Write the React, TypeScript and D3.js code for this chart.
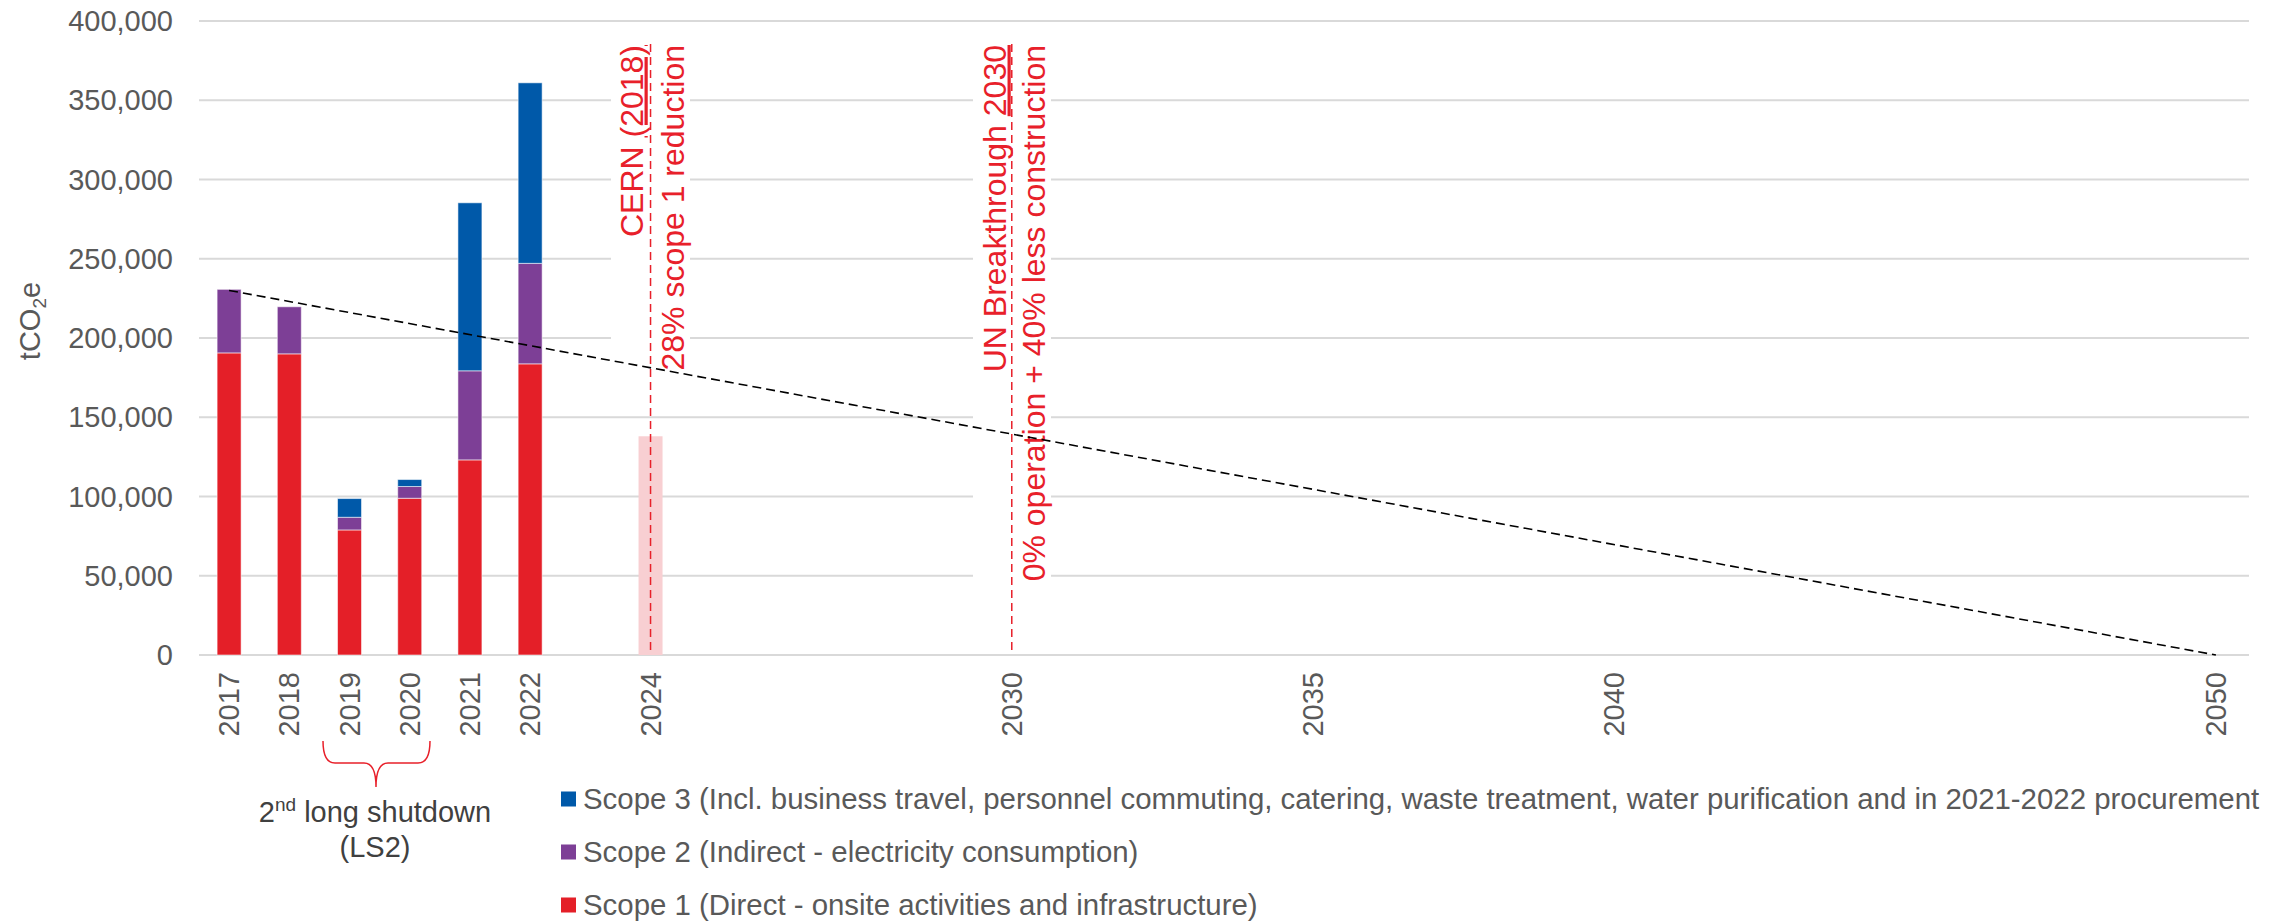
import React from "react";
import * as d3 from "d3";

// Emissions by scope, tCO2e
const years = [2017, 2018, 2019, 2020, 2021, 2022];
const scope1 = [190600, 190000, 78900, 98900, 123100, 183700];
const scope2 = [40100, 29700, 8000, 7400, 56200, 63400];
const scope3 = [0, 0, 11800, 4400, 106000, 113900];

// 2024 target bar and reduction trajectory
const targetYear = 2024;
const targetValue = 138000;
const trendYears = [2017, 2050];
const trendValues = [230000, 0];

const yTicks = [0, 50000, 100000, 150000, 200000, 250000, 300000, 350000, 400000];
const xTickYears = [2017, 2018, 2019, 2020, 2021, 2022, 2024, 2030, 2035, 2040, 2050];

const seriesKeys = ["scope1", "scope2", "scope3"];
const seriesColors: Record<string, string> = {
  scope1: "#e41f28",
  scope2: "#7d3f96",
  scope3: "#0059a9",
};
const legendItems = [
  { key: "scope3", label: "Scope 3 (Incl. business travel, personnel commuting, catering, waste treatment, water purification and in 2021-2022 procurement" },
  { key: "scope2", label: "Scope 2 (Indirect - electricity consumption)" },
  { key: "scope1", label: "Scope 1 (Direct - onsite activities and infrastructure)" },
];

const W = 2282;
const H = 921;
const FONT = "'Liberation Sans', Arial, sans-serif";
const RED = "#e8202a";
const GREY = "#595959";

export default function App() {
  const x = d3.scaleLinear().domain([2016.5, 2050.55]).range([199, 2249]);
  const y = d3.scaleLinear().domain([0, 400000]).range([655, 21]);
  const barW = 24;

  const rows = years.map((yr, i) => ({ year: yr, scope1: scope1[i], scope2: scope2[i], scope3: scope3[i] }));
  const stacked = d3.stack<any>().keys(seriesKeys)(rows);

  const trendLine = d3
    .line<number>()
    .x((_, i) => x(trendYears[i]))
    .y((d) => y(d))(trendValues);

  return (
    <div style={{ position: "absolute", left: 0, top: 0 }}>
      <svg width={W} height={H} style={{ display: "block", background: "#fff" }} fontFamily={FONT}>
        {/* gridlines */}
        {yTicks.map((t) => (
          <line key={t} x1={199} x2={2249} y1={y(t)} y2={y(t)} stroke="#d9d9d9" strokeWidth={2} />
        ))}
        {/* y tick labels */}
        {yTicks.map((t) => (
          <text key={"yl" + t} x={173} y={y(t)} dy="0.35em" textAnchor="end" fontSize={29} fill={GREY}>
            {d3.format(",")(t)}
          </text>
        ))}
        {/* y axis title */}
        <text transform={`translate(30, 321) rotate(-90)`} textAnchor="middle" dy="0.35em" fontSize={29} fill={GREY}>
          tCO<tspan fontSize={19} dy="6">2</tspan>
          <tspan dy="-6">e</tspan>
        </text>

        {/* annotation backgrounds */}
        <rect x={611} y={30} width={79} height={345} fill="#fff" />
        <rect x={973} y={30} width={78} height={556} fill="#fff" />

        {/* target bar */}
        <rect x={x(targetYear) - barW / 2} y={y(targetValue)} width={barW} height={y(0) - y(targetValue)} fill="#f8cfd2" />

        {/* stacked bars */}
        {stacked.map((s) => (
          <g key={s.key} fill={seriesColors[s.key]}>
            {s.map((d, i) =>
              d[1] - d[0] > 0 ? (
                <rect
                  key={i}
                  x={x(years[i]) - barW / 2}
                  y={y(d[1])}
                  width={barW}
                  height={y(d[0]) - y(d[1])}
                  stroke="#ffffff"
                  strokeOpacity={0.55}
                  strokeWidth={1}
                />
              ) : null
            )}
          </g>
        ))}

        {/* reference lines */}
        <line x1={x(2024)} x2={x(2024)} y1={44} y2={y(0)} stroke={RED} strokeWidth={1.5} strokeDasharray="8 5" />
        <line x1={x(2030)} x2={x(2030)} y1={44} y2={y(0)} stroke={RED} strokeWidth={1.5} strokeDasharray="8 5" />

        {/* annotation text */}
        <text transform={`translate(631, 45) rotate(-90)`} textAnchor="end" dy="0.36em" fontSize={32} fill={RED}>
          CERN <tspan textDecoration="underline">(2018)</tspan>
        </text>
        <text transform={`translate(672, 45) rotate(-90)`} textAnchor="end" dy="0.36em" fontSize={32} fill={RED}>
          28% scope 1 reduction
        </text>
        <text transform={`translate(994, 45) rotate(-90)`} textAnchor="end" dy="0.36em" fontSize={32} fill={RED}>
          UN Breakthrough <tspan textDecoration="underline">2030</tspan>
        </text>
        <text transform={`translate(1033, 45) rotate(-90)`} textAnchor="end" dy="0.36em" fontSize={32} fill={RED}>
          0% operation + 40% less construction
        </text>

        {/* trajectory */}
        <path d={trendLine || ""} fill="none" stroke="#000" strokeWidth={1.6} strokeDasharray="9 5" />

        {/* x tick labels */}
        {xTickYears.map((yr) => (
          <text key={"xl" + yr} transform={`translate(${x(yr)}, 672) rotate(-90)`} textAnchor="end" dy="0.35em" fontSize={29} fill={GREY}>
            {yr}
          </text>
        ))}

        {/* LS2 brace */}
        <path
          d="M323,741 Q323,763 335,763 L364,763 Q376,763 376,787 Q376,763 388,763 L418,763 Q430,763 430,741"
          fill="none"
          stroke={RED}
          strokeWidth={1.5}
        />
        <text x={375} y={822} textAnchor="middle" fontSize={29} fill="#404040">
          2<tspan fontSize={19} dy="-11">nd</tspan>
          <tspan dy="11"> long shutdown</tspan>
        </text>
        <text x={375} y={857} textAnchor="middle" fontSize={29} fill="#404040">
          (LS2)
        </text>

        {/* legend */}
        {legendItems.map((it, i) => {
          const cy = 799 + i * 53;
          return (
            <g key={it.key}>
              <rect x={561} y={cy - 7.5} width={15} height={15} fill={seriesColors[it.key]} />
              <text x={583} y={cy} dy="0.35em" fontSize={29.4} fill={GREY}>
                {it.label}
              </text>
            </g>
          );
        })}
      </svg>
    </div>
  );
}
